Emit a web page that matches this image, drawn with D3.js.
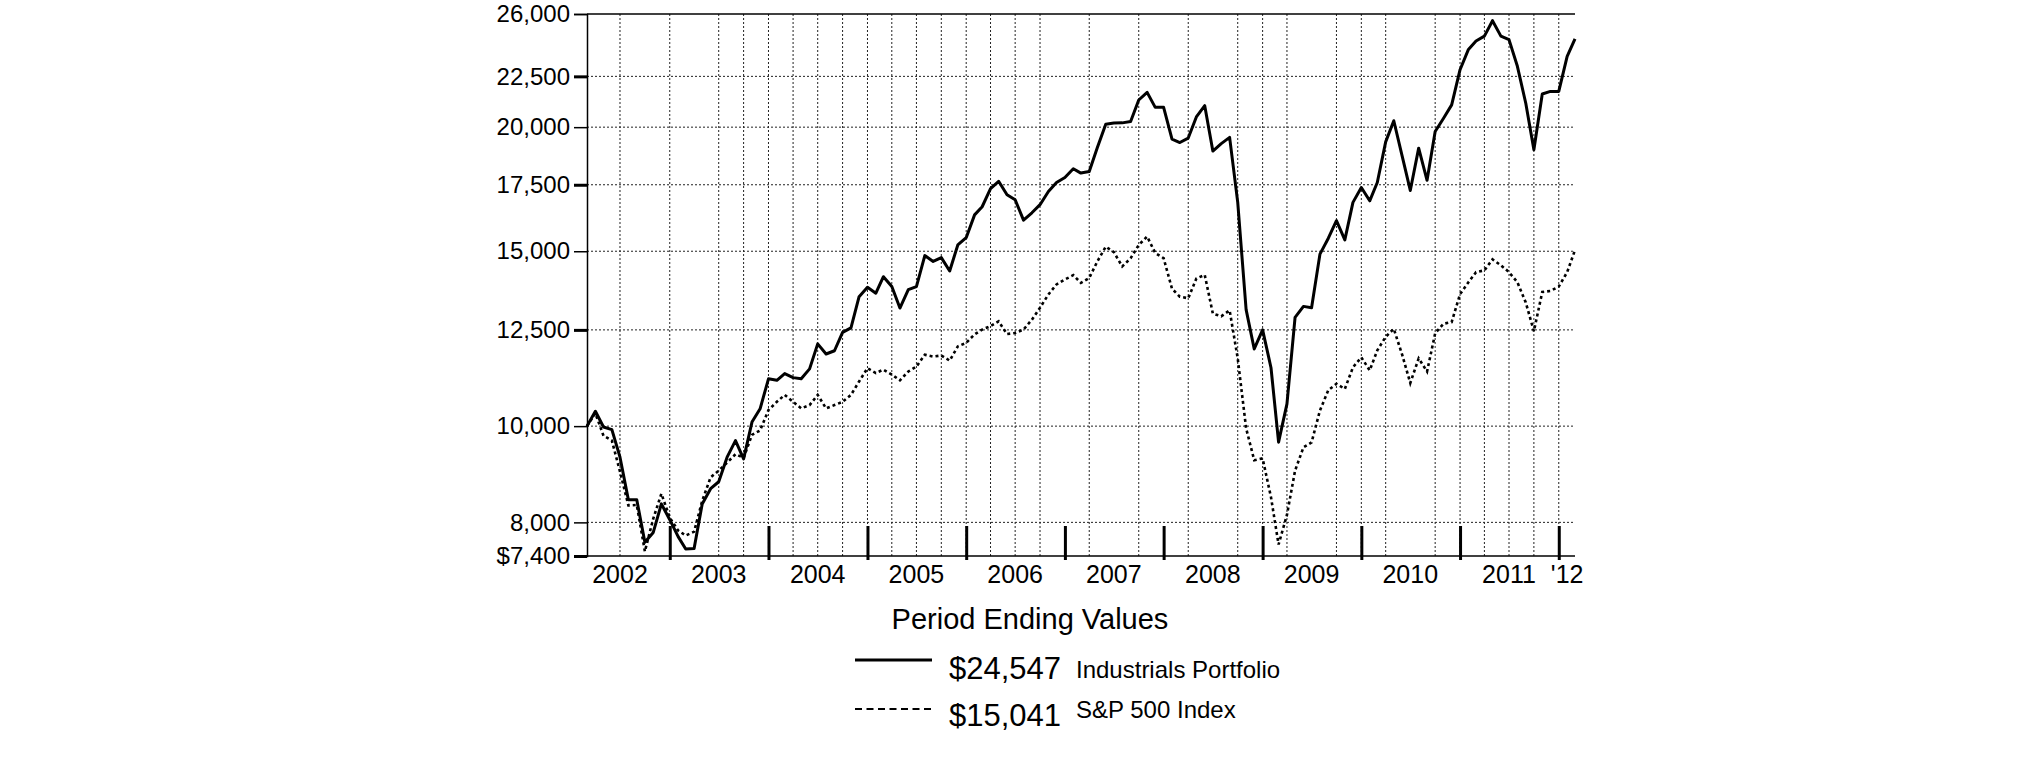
<!DOCTYPE html>
<html><head><meta charset="utf-8">
<script src="https://cdn.jsdelivr.net/npm/d3@7"></script>
<style>
html,body{margin:0;padding:0;background:#fff;}
svg{display:block;font-family:"Liberation Sans",Arial,Helvetica,sans-serif;}
</style></head><body>
<svg id="chart" width="2025" height="761"></svg>
<script>
// period ends (month) from Feb 2002 to Feb 2012
const startPeriod = "2002-02";
const periodCount = 121;
const industrials = [
 10000,10350,9980,9920,9305,8430,8430,7640,7815,8350,8050,
 7740,7520,7530,8350,8650,8790,9305,9670,9270,10095,10410,11160,
 11120,11295,11190,11160,11420,12100,11820,11910,12430,12560,13500,13800,
 13610,14140,13820,13150,13720,13820,14850,14650,14780,14330,15220,15480,
 16320,16630,17340,17640,17100,16900,16120,16400,16710,17230,17590,17800,
 18160,17980,18050,19080,20140,20190,20200,20260,21300,21680,20940,20940,
 19450,19300,19500,20480,21020,18920,19250,19530,16800,13100,11960,12500,
 11450,9635,10530,12870,13200,13160,14900,15460,16100,15400,16800,17390,
 16860,17590,19330,20300,18700,17270,19050,17680,19800,20420,21060,22850,
 23950,24420,24700,25600,24700,24500,23030,21140,18980,21600,21730,21730,
 23570,24547];
const sp500 = [
 10000,10300,9780,9670,9000,8320,8330,7480,8070,8550,8090,
 7850,7760,7830,8410,8880,9020,9190,9370,9290,9800,9900,10380,
 10580,10750,10580,10420,10500,10750,10420,10500,10580,10750,11090,11440,
 11310,11400,11270,11120,11350,11480,11800,11750,11780,11640,12030,12130,
 12370,12510,12610,12750,12380,12410,12510,12800,13160,13570,13890,14050,
 14190,13940,14100,14650,15160,14970,14480,14760,15220,15520,14940,14760,
 13750,13500,13450,14080,14200,12980,12900,13080,11700,9950,9240,9280,
 8480,7600,8140,9020,9520,9630,10370,10870,11030,10900,11460,11730,
 11380,11920,12300,12530,11800,11050,11700,11350,12400,12680,12730,13580,
 13960,14290,14350,14720,14520,14290,13960,13320,12460,13650,13680,13820,
 14290,15041];
const yTickValues = [7400, 8000, 10000, 12500, 15000, 17500, 20000, 22500, 26000];
const yTickLabels = ["$7,400","8,000","10,000","12,500","15,000","17,500","20,000","22,500","26,000"];
const yearTickPeriods = ["2002-12","2003-12","2004-12","2005-12","2006-12","2007-12","2008-12","2009-12","2010-12","2011-12"];
const yearLabels = ["2002","2003","2004","2005","2006","2007","2008","2009","2010","2011","'12"];
const yearLabelPeriods = ["2002-06","2003-06","2004-06","2005-06","2006-06","2007-06","2008-06","2009-06","2010-06","2011-06","2012-01"];
const gridPeriods = ["2002-06","2002-12","2003-06","2003-09","2003-12","2004-03","2004-06","2004-09","2004-12",
 "2005-03","2005-06","2005-09","2005-12","2006-03","2006-06","2006-09","2007-03","2007-09","2008-03",
 "2008-09","2008-12","2009-03","2009-09","2009-12","2010-03","2010-09","2010-12","2011-03","2011-06",
 "2011-09","2011-12"];
const legendTitle = "Period Ending Values";
const legendValues = ["$24,547","$15,041"];
const legendNames = ["Industrials Portfolio","S&P 500 Index"];

const parseM = d3.timeParse("%Y-%m");
const periodEnd = s => d3.timeMonth.offset(parseM(s), 1);
const start = periodEnd(startPeriod);
const dates = d3.range(periodCount).map(i => d3.timeMonth.offset(start, i));

const L = 587, R = 1575, T = 14, B = 556;
const x = d3.scaleTime().domain([dates[0], dates[dates.length-1]]).range([L, R]);
const y = d3.scaleLog().domain([7400, 26000]).range([B, T]);

const svg = d3.select("#chart");
svg.append("rect").attr("width",2025).attr("height",761).attr("fill","#fff");

// horizontal grid
svg.append("g").selectAll("line").data(yTickValues.filter(v => v!==7400 && v!==26000)).join("line")
  .attr("x1", L).attr("x2", R).attr("y1", d=>y(d)).attr("y2", d=>y(d))
  .attr("stroke","#222").attr("stroke-width",1).attr("stroke-dasharray","2,2");
// vertical grid
svg.append("g").selectAll("line").data(gridPeriods).join("line")
  .attr("x1", d=>x(periodEnd(d))).attr("x2", d=>x(periodEnd(d))).attr("y1", T).attr("y2", B)
  .attr("stroke","#222").attr("stroke-width",1).attr("stroke-dasharray","2,2");

// top border
svg.append("line").attr("x1", L).attr("x2", R).attr("y1", T).attr("y2", T)
  .attr("stroke","#000").attr("stroke-width",1.5);

// y axis
const yAxis = d3.axisLeft(y).tickValues(yTickValues)
  .tickFormat((d,i) => yTickLabels[i]).tickSize(13).tickPadding(4);
const gy = svg.append("g").attr("transform",`translate(${L},0)`).call(yAxis);
gy.select(".domain").attr("stroke","#000").attr("stroke-width",1.5);
gy.selectAll(".tick line").attr("stroke","#000")
  .attr("stroke-width", d => [7400,12500,17500,22500].includes(d) ? 3 : 1.5);
gy.selectAll(".tick text").attr("font-size",24).attr("fill","#000")
  .attr("font-family","\"Liberation Sans\",Arial,sans-serif");

// x axis baseline & year ticks
const xAxis = d3.axisBottom(x).tickValues(yearTickPeriods.map(periodEnd))
  .tickSize(-30).tickFormat("");
const gx = svg.append("g").attr("transform",`translate(0,${B})`).call(xAxis);
gx.select(".domain").attr("stroke","#000").attr("stroke-width",1.5).attr("d",`M${L},0H${R}`);
gx.selectAll(".tick line").attr("stroke","#000").attr("stroke-width",3).attr("y1",4);

// year labels
svg.append("g").selectAll("text").data(yearLabels).join("text")
  .attr("x",(d,i)=>x(periodEnd(yearLabelPeriods[i]))).attr("y",583)
  .attr("text-anchor","middle").attr("font-size",25).attr("fill","#000").text(d=>d);

// series
const line = d3.line().x((d,i)=>x(dates[i])).y(d=>y(d));
svg.append("path").datum(sp500).attr("d",line).attr("fill","none")
  .attr("stroke","#000").attr("stroke-width",2.6).attr("stroke-dasharray","3,3");
svg.append("path").datum(industrials).attr("d",line).attr("fill","none")
  .attr("stroke","#000").attr("stroke-width",3).attr("stroke-linejoin","round");

// legend
svg.append("text").attr("x",1030).attr("y",629).attr("text-anchor","middle")
  .attr("font-size",29).attr("fill","#000").text(legendTitle);
svg.append("line").attr("x1",855).attr("x2",932).attr("y1",660).attr("y2",660)
  .attr("stroke","#000").attr("stroke-width",3);
svg.append("line").attr("x1",855).attr("x2",932).attr("y1",709).attr("y2",709)
  .attr("stroke","#000").attr("stroke-width",2).attr("stroke-dasharray","7,4.5");
svg.append("text").attr("x",949).attr("y",679).attr("font-size",31).attr("fill","#000").text(legendValues[0]);
svg.append("text").attr("x",1076).attr("y",678).attr("font-size",24).attr("fill","#000").text(legendNames[0]);
svg.append("text").attr("x",949).attr("y",726).attr("font-size",31).attr("fill","#000").text(legendValues[1]);
svg.append("text").attr("x",1076).attr("y",718).attr("font-size",24).attr("fill","#000").text(legendNames[1]);
</script></body></html>
